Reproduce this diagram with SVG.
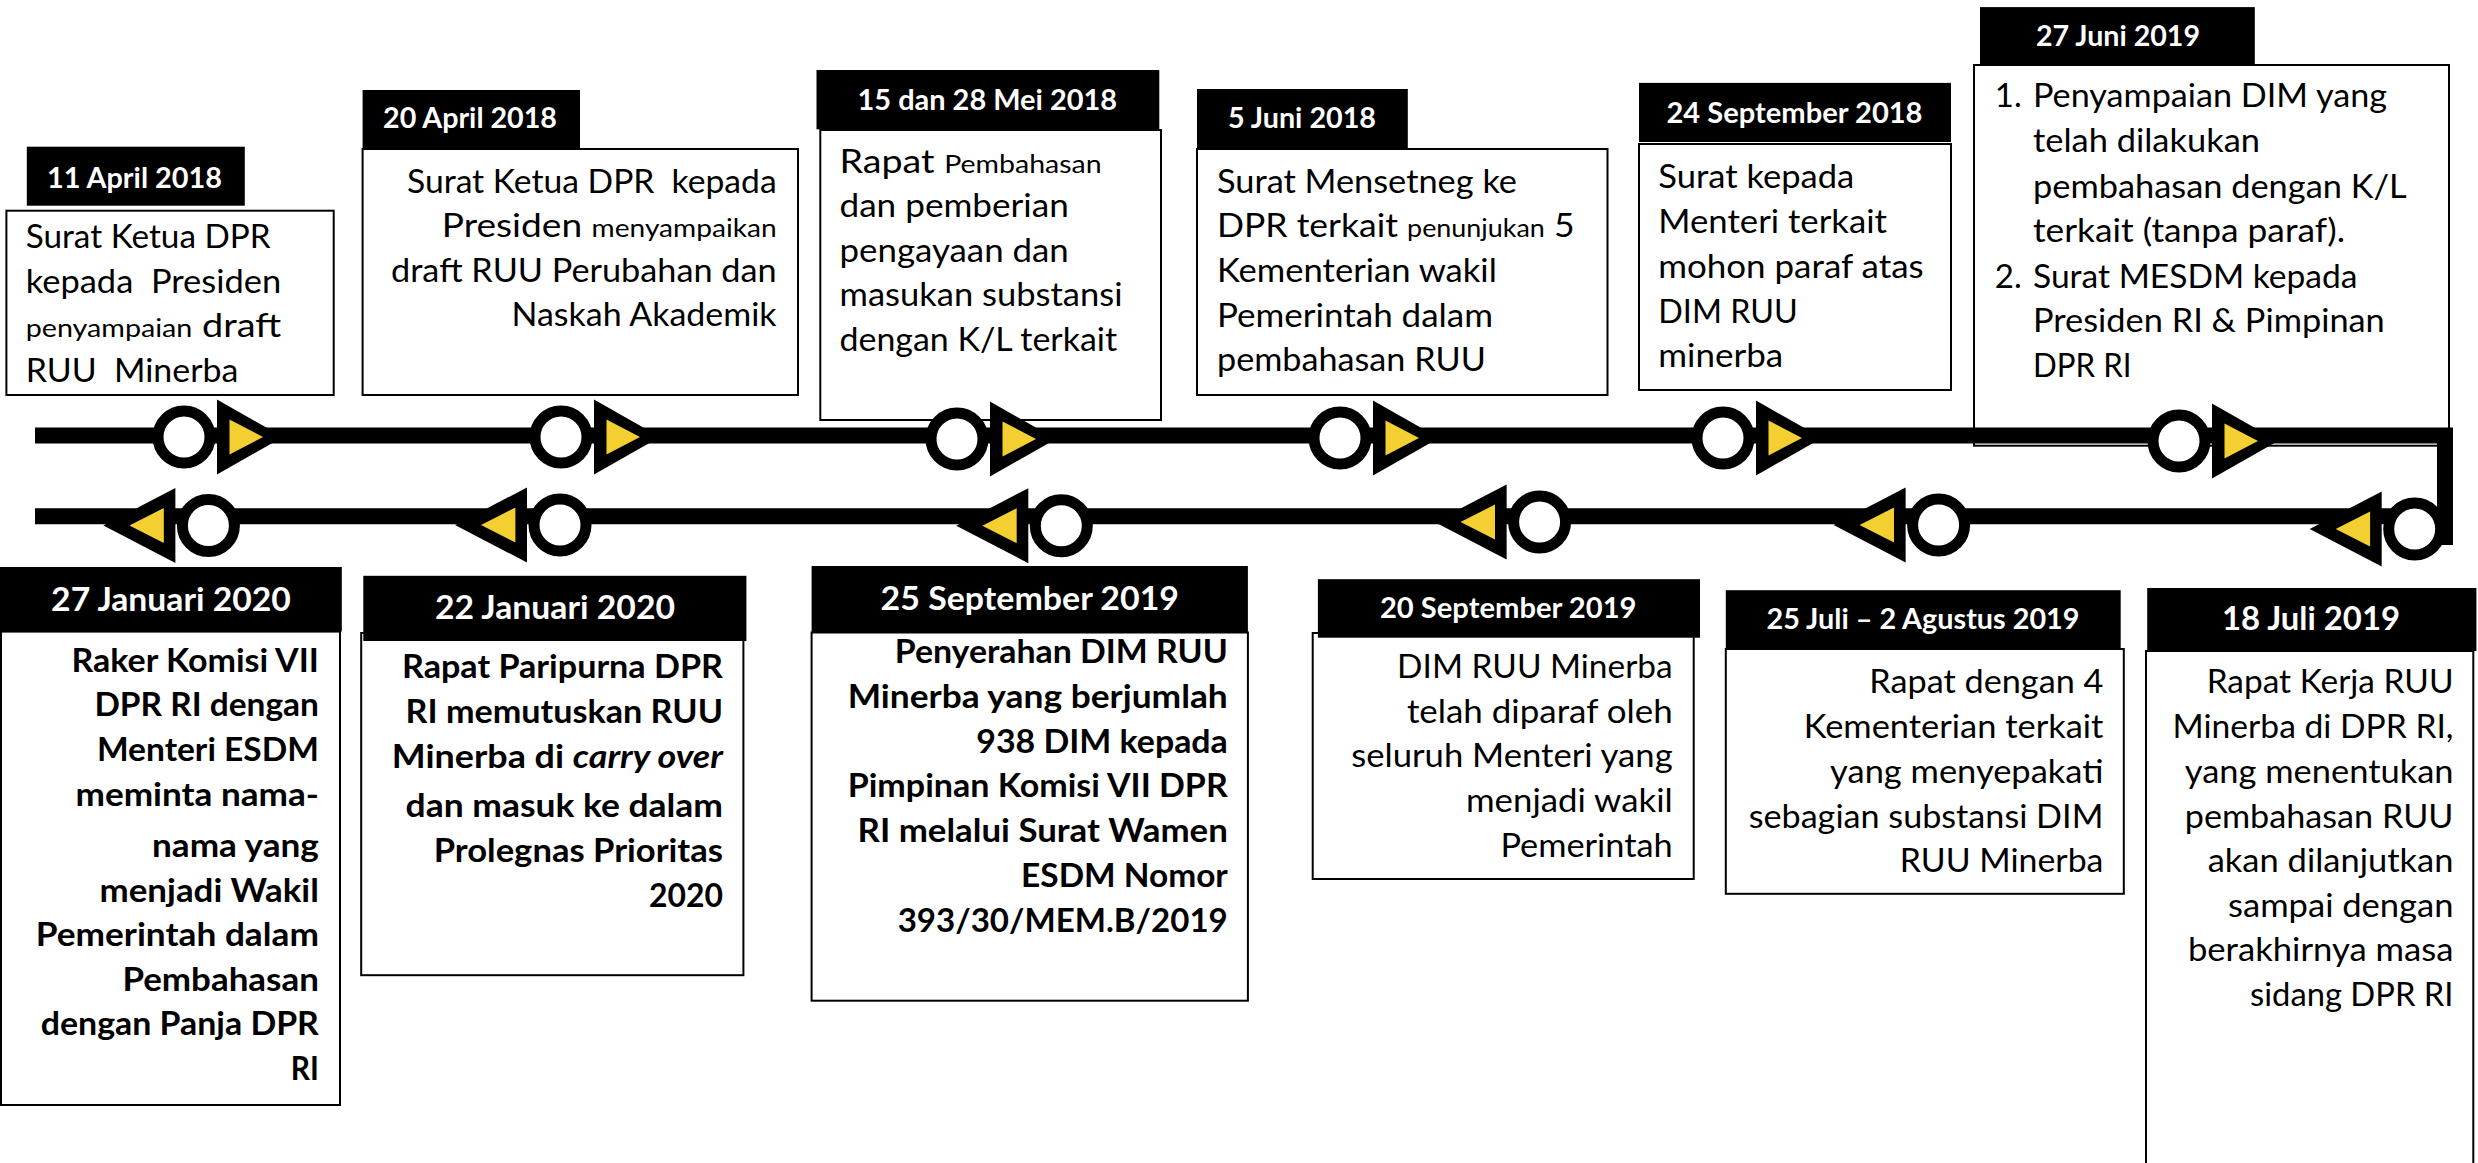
<svg xmlns="http://www.w3.org/2000/svg" xmlns:xlink="http://www.w3.org/1999/xlink" width="2478" height="1163" viewBox="0 0 2478 1163">
<style>
.hd{fill:#000}
.bx{fill:#fff;stroke:#000;stroke-width:2}
.bxn{fill:none;stroke:#000;stroke-width:2}
.ht{font-family:Lato,'Liberation Sans',sans-serif;font-weight:700;fill:#fff;text-anchor:middle;font-size:29px}
.hb{font-size:33px}
.t{font-family:Lato,'Liberation Sans',sans-serif;font-size:33px;fill:#000}
.b{font-weight:700}
.r{text-anchor:end}
.sm{font-size:25px}
.ln{fill:none;stroke:#000;stroke-width:16;stroke-linejoin:miter;stroke-linecap:butt}
.ring{fill:#fff;stroke:#000;stroke-width:11}
.tri{fill:#000}
.yel{fill:#F4CF31}
</style>
<defs>
<g id="mR">
<circle class="ring" cx="-33" cy="0" r="26"/>
<polygon class="tri" points="0,-37.5 0,37.5 66,0"/>
<polygon class="yel" points="12.5,-17.5 12.5,17.5 46,0"/>
</g>
<g id="mL">
<circle class="ring" cx="33" cy="0" r="26"/>
<polygon class="tri" points="0,-37.5 0,37.5 -72,0"/>
<polygon class="yel" points="-11.6,-17.5 -11.6,17.5 -46,0"/>
</g>
</defs>
<rect width="2478" height="1163" fill="#fff"/>

<g id="connectors">
<polyline class="ln" points="35,435.5 2445,435.5 2445,545"/>
<polyline class="ln" points="2445,516.3 35,516.3"/>
</g>

<g id="n-11april2018">
<rect class="bx" x="6.4" y="210.7" width="327.3" height="184.3"/>
<rect class="hd" x="26.8" y="146.7" width="218" height="59"/>
<text class="ht" x="134.5" y="187.7" textLength="175" lengthAdjust="spacingAndGlyphs">11 April 2018</text>
<text class="t" x="25.7" y="248" textLength="245" lengthAdjust="spacingAndGlyphs">Surat Ketua DPR</text>
<text class="t" x="25.7" y="293" textLength="255.5" lengthAdjust="spacingAndGlyphs" xml:space="preserve">kepada  Presiden</text>
<text class="t" x="25.7" y="337" textLength="255.5" lengthAdjust="spacingAndGlyphs"><tspan class="sm">penyampaian</tspan> draft</text>
<text class="t" x="25.7" y="381.7" textLength="212.6" lengthAdjust="spacingAndGlyphs" xml:space="preserve">RUU  Minerba</text>
<use xlink:href="#mR" href="#mR" transform="translate(217,437)"/>
</g>

<g id="n-20april2018">
<rect class="bx" x="362.6" y="149" width="435.4" height="246"/>
<rect class="hd" x="362.6" y="90" width="217.4" height="58.3"/>
<text class="ht" x="470" y="128.3" textLength="174" lengthAdjust="spacingAndGlyphs">20 April 2018</text>
<text class="t r" x="776.6" y="192.7" textLength="369.6" lengthAdjust="spacingAndGlyphs" xml:space="preserve">Surat Ketua DPR  kepada</text>
<text class="t r" x="776.6" y="237.3" textLength="334.8" lengthAdjust="spacingAndGlyphs">Presiden <tspan class="sm">menyampaikan</tspan></text>
<text class="t r" x="776.6" y="281.7" textLength="385.6" lengthAdjust="spacingAndGlyphs">draft RUU Perubahan dan</text>
<text class="t r" x="776.6" y="326" textLength="265.1" lengthAdjust="spacingAndGlyphs">Naskah Akademik</text>
<use xlink:href="#mR" href="#mR" transform="translate(594,437)"/>
</g>

<g id="n-15dan28mei2018">
<rect class="bx" x="820.3" y="130" width="340.7" height="290"/>
<rect class="hd" x="816.5" y="70" width="342.8" height="59.3"/>
<text class="ht" x="987.3" y="110" textLength="259.4" lengthAdjust="spacingAndGlyphs">15 dan 28 Mei 2018</text>
<text class="t" x="839.5" y="172.7" textLength="262.2" lengthAdjust="spacingAndGlyphs">Rapat <tspan class="sm">Pembahasan</tspan></text>
<text class="t" x="839.5" y="216.7" textLength="229.3" lengthAdjust="spacingAndGlyphs">dan pemberian</text>
<text class="t" x="839.5" y="261.7" textLength="229.3" lengthAdjust="spacingAndGlyphs">pengayaan dan</text>
<text class="t" x="839.5" y="306" textLength="283" lengthAdjust="spacingAndGlyphs">masukan substansi</text>
<text class="t" x="839.5" y="351" textLength="277.6" lengthAdjust="spacingAndGlyphs">dengan K/L terkait</text>
<use xlink:href="#mR" href="#mR" transform="translate(990,439)"/>
</g>

<g id="n-5juni2018">
<rect class="bx" x="1197" y="149" width="410.5" height="246"/>
<rect class="hd" x="1197" y="89" width="210.8" height="59.3"/>
<text class="ht" x="1302" y="128.3" textLength="148" lengthAdjust="spacingAndGlyphs">5 Juni 2018</text>
<text class="t" x="1217" y="192.7" textLength="300" lengthAdjust="spacingAndGlyphs">Surat Mensetneg ke</text>
<text class="t" x="1217" y="237.3" textLength="357.6" lengthAdjust="spacingAndGlyphs">DPR terkait <tspan class="sm">penunjukan</tspan> 5</text>
<text class="t" x="1217" y="281.7" textLength="279.8" lengthAdjust="spacingAndGlyphs">Kementerian wakil</text>
<text class="t" x="1217" y="326.7" textLength="276" lengthAdjust="spacingAndGlyphs">Pemerintah dalam</text>
<text class="t" x="1217" y="370.7" textLength="268.8" lengthAdjust="spacingAndGlyphs">pembahasan RUU</text>
<use xlink:href="#mR" href="#mR" transform="translate(1373,438)"/>
</g>

<g id="n-24september2018">
<rect class="bx" x="1639" y="144" width="312" height="246"/>
<rect class="hd" x="1639" y="82.9" width="312" height="59.1"/>
<text class="ht" x="1794.5" y="123.2" textLength="256" lengthAdjust="spacingAndGlyphs">24 September 2018</text>
<text class="t" x="1658.3" y="187.5" textLength="195.9" lengthAdjust="spacingAndGlyphs">Surat kepada</text>
<text class="t" x="1658.3" y="232.9" textLength="228.7" lengthAdjust="spacingAndGlyphs">Menteri terkait</text>
<text class="t" x="1658.3" y="277.9" textLength="265.4" lengthAdjust="spacingAndGlyphs">mohon paraf atas</text>
<text class="t" x="1658.3" y="322.5" textLength="139.5" lengthAdjust="spacingAndGlyphs">DIM RUU</text>
<text class="t" x="1658.3" y="367" textLength="124.8" lengthAdjust="spacingAndGlyphs">minerba</text>
<use xlink:href="#mR" href="#mR" transform="translate(1756,438)"/>
</g>

<g id="n-27juni2019">
<rect class="bxn" x="1974" y="65" width="475" height="380.7"/>
<rect class="hd" x="1980" y="7.1" width="274.8" height="57.2"/>
<text class="ht" x="2118" y="45.7" textLength="164" lengthAdjust="spacingAndGlyphs">27 Juni 2019</text>
<text class="t" x="1994.8" y="107">1.</text>
<text class="t" x="2033" y="107" textLength="354" lengthAdjust="spacingAndGlyphs">Penyampaian DIM yang</text>
<text class="t" x="2033" y="151.8" textLength="227" lengthAdjust="spacingAndGlyphs">telah dilakukan</text>
<text class="t" x="2033" y="197.5" textLength="373.7" lengthAdjust="spacingAndGlyphs">pembahasan dengan K/L</text>
<text class="t" x="2033" y="242" textLength="312" lengthAdjust="spacingAndGlyphs">terkait (tanpa paraf).</text>
<text class="t" x="1994.8" y="287.5">2.</text>
<text class="t" x="2033" y="287.5" textLength="324.5" lengthAdjust="spacingAndGlyphs">Surat MESDM kepada</text>
<text class="t" x="2033" y="332" textLength="351.8" lengthAdjust="spacingAndGlyphs">Presiden RI &amp; Pimpinan</text>
<text class="t" x="2033" y="376.8" textLength="98.5" lengthAdjust="spacingAndGlyphs">DPR RI</text>
<use xlink:href="#mR" href="#mR" transform="translate(2212,441)"/>
</g>

<g id="n-18juli2019">
<rect class="bx" x="2146" y="651" width="327.3" height="530"/>
<rect class="hd" x="2147.2" y="588" width="329.2" height="63"/>
<text class="ht hb" x="2311" y="630.3" textLength="178" lengthAdjust="spacingAndGlyphs">18 Juli 2019</text>
<text class="t r" x="2453.5" y="693.4" textLength="246.8" lengthAdjust="spacingAndGlyphs">Rapat Kerja RUU</text>
<text class="t r" x="2453.5" y="737.8" textLength="280.9" lengthAdjust="spacingAndGlyphs">Minerba di DPR RI,</text>
<text class="t r" x="2453.5" y="782.7" textLength="268.7" lengthAdjust="spacingAndGlyphs">yang menentukan</text>
<text class="t r" x="2453.5" y="827.6" textLength="268.7" lengthAdjust="spacingAndGlyphs">pembahasan RUU</text>
<text class="t r" x="2453.5" y="872" textLength="245.8" lengthAdjust="spacingAndGlyphs">akan dilanjutkan</text>
<text class="t r" x="2453.5" y="916.8" textLength="225.4" lengthAdjust="spacingAndGlyphs">sampai dengan</text>
<text class="t r" x="2453.5" y="961.3" textLength="265.6" lengthAdjust="spacingAndGlyphs">berakhirnya masa</text>
<text class="t r" x="2453.5" y="1006" textLength="203.5" lengthAdjust="spacingAndGlyphs">sidang DPR RI</text>
<use xlink:href="#mL" href="#mL" transform="translate(2381.7,529)"/>
</g>

<g id="n-25juli2agustus2019">
<rect class="bx" x="1725.8" y="649" width="398" height="244.8"/>
<rect class="hd" x="1725.8" y="590.2" width="394.9" height="58.8"/>
<text class="ht" x="1923" y="629" textLength="313" lengthAdjust="spacingAndGlyphs">25 Juli – 2 Agustus 2019</text>
<text class="t r" x="2103.4" y="693.4" textLength="234.1" lengthAdjust="spacingAndGlyphs">Rapat dengan 4</text>
<text class="t r" x="2103.4" y="737.8" textLength="299.7" lengthAdjust="spacingAndGlyphs">Kementerian terkait</text>
<text class="t r" x="2103.4" y="782.7" textLength="273.3" lengthAdjust="spacingAndGlyphs">yang menyepakati</text>
<text class="t r" x="2103.4" y="827.6" textLength="354.7" lengthAdjust="spacingAndGlyphs">sebagian substansi DIM</text>
<text class="t r" x="2103.4" y="872" textLength="203.6" lengthAdjust="spacingAndGlyphs">RUU Minerba</text>
<use xlink:href="#mL" href="#mL" transform="translate(1905.6,525)"/>
</g>

<g id="n-20september2019">
<rect class="bx" x="1312.7" y="633" width="381" height="246"/>
<rect class="hd" x="1317.9" y="579.2" width="382.1" height="58.5"/>
<text class="ht" x="1508.2" y="617.7" textLength="256.6" lengthAdjust="spacingAndGlyphs">20 September 2019</text>
<text class="t r" x="1672.7" y="678" textLength="275.6" lengthAdjust="spacingAndGlyphs">DIM RUU Minerba</text>
<text class="t r" x="1672.7" y="722.8" textLength="265.8" lengthAdjust="spacingAndGlyphs">telah diparaf oleh</text>
<text class="t r" x="1672.7" y="766.5" textLength="321.5" lengthAdjust="spacingAndGlyphs">seluruh Menteri yang</text>
<text class="t r" x="1672.7" y="812.3" textLength="206.7" lengthAdjust="spacingAndGlyphs">menjadi wakil</text>
<text class="t r" x="1672.7" y="857" textLength="172.3" lengthAdjust="spacingAndGlyphs">Pemerintah</text>
<use xlink:href="#mL" href="#mL" transform="translate(1506.6,522)"/>
</g>

<g id="n-25september2019">
<rect class="bx" x="811.6" y="632.5" width="436.3" height="368.2"/>
<rect class="hd" x="811.6" y="566" width="436.3" height="66.5"/>
<text class="ht hb" x="1029.8" y="610.2" textLength="298.5" lengthAdjust="spacingAndGlyphs">25 September 2019</text>
<text class="t b r" x="1227.8" y="663.2" textLength="333" lengthAdjust="spacingAndGlyphs">Penyerahan DIM RUU</text>
<text class="t b r" x="1227.8" y="708.3" textLength="380.1" lengthAdjust="spacingAndGlyphs">Minerba yang berjumlah</text>
<text class="t b r" x="1227.8" y="753" textLength="251.5" lengthAdjust="spacingAndGlyphs">938 DIM kepada</text>
<text class="t b r" x="1227.8" y="796.8" textLength="380.1" lengthAdjust="spacingAndGlyphs">Pimpinan Komisi VII DPR</text>
<text class="t b r" x="1227.8" y="842.3" textLength="370.3" lengthAdjust="spacingAndGlyphs">RI melalui Surat Wamen</text>
<text class="t b r" x="1227.8" y="887.4" textLength="206.7" lengthAdjust="spacingAndGlyphs">ESDM Nomor</text>
<text class="t b r" x="1227.8" y="932.1" textLength="330.1" lengthAdjust="spacingAndGlyphs">393/30/MEM.B/2019</text>
<use xlink:href="#mL" href="#mL" transform="translate(1028.3,525.7)"/>
</g>

<g id="n-22januari2020">
<rect class="bx" x="361.2" y="633" width="382.2" height="342.2"/>
<rect class="hd" x="363.3" y="575.8" width="383.1" height="65.2"/>
<text class="ht hb" x="555" y="619.4" textLength="240" lengthAdjust="spacingAndGlyphs">22 Januari 2020</text>
<text class="t b r" x="723" y="678" textLength="321" lengthAdjust="spacingAndGlyphs">Rapat Paripurna DPR</text>
<text class="t b r" x="723" y="723" textLength="317.4" lengthAdjust="spacingAndGlyphs">RI memutuskan RUU</text>
<text class="t b r" x="723" y="767.5" textLength="331.2" lengthAdjust="spacingAndGlyphs">Minerba di <tspan font-style="italic">carry over</tspan></text>
<text class="t b r" x="723" y="816.7" textLength="317.4" lengthAdjust="spacingAndGlyphs">dan masuk ke dalam</text>
<text class="t b r" x="723" y="862.4" textLength="289.3" lengthAdjust="spacingAndGlyphs">Prolegnas Prioritas</text>
<text class="t b r" x="723" y="906.8" textLength="74" lengthAdjust="spacingAndGlyphs">2020</text>
<use xlink:href="#mL" href="#mL" transform="translate(527,525)"/>
</g>

<g id="n-27januari2020">
<rect class="bx" x="1" y="631.6" width="339" height="473.4"/>
<rect class="hd" x="0" y="567" width="341.8" height="64.6"/>
<text class="ht hb" x="171" y="610.7" textLength="239.8" lengthAdjust="spacingAndGlyphs">27 Januari 2020</text>
<text class="t b r" x="318.9" y="671.6" textLength="247.5" lengthAdjust="spacingAndGlyphs">Raker Komisi VII</text>
<text class="t b r" x="318.9" y="716" textLength="224.5" lengthAdjust="spacingAndGlyphs">DPR RI dengan</text>
<text class="t b r" x="318.9" y="761" textLength="222" lengthAdjust="spacingAndGlyphs">Menteri ESDM</text>
<text class="t b r" x="318.9" y="805.8" textLength="243.4" lengthAdjust="spacingAndGlyphs">meminta nama-</text>
<text class="t b r" x="318.9" y="856.7" textLength="166.9" lengthAdjust="spacingAndGlyphs">nama yang</text>
<text class="t b r" x="318.9" y="901.6" textLength="219.4" lengthAdjust="spacingAndGlyphs">menjadi Wakil</text>
<text class="t b r" x="318.9" y="946" textLength="283.2" lengthAdjust="spacingAndGlyphs">Pemerintah dalam</text>
<text class="t b r" x="318.9" y="990.5" textLength="196.5" lengthAdjust="spacingAndGlyphs">Pembahasan</text>
<text class="t b r" x="318.9" y="1035.3" textLength="278.1" lengthAdjust="spacingAndGlyphs">dengan Panja DPR</text>
<text class="t b r" x="318.9" y="1080" textLength="28.1" lengthAdjust="spacingAndGlyphs">RI</text>
<use xlink:href="#mL" href="#mL" transform="translate(175.4,525.5)"/>
</g>
</svg>
